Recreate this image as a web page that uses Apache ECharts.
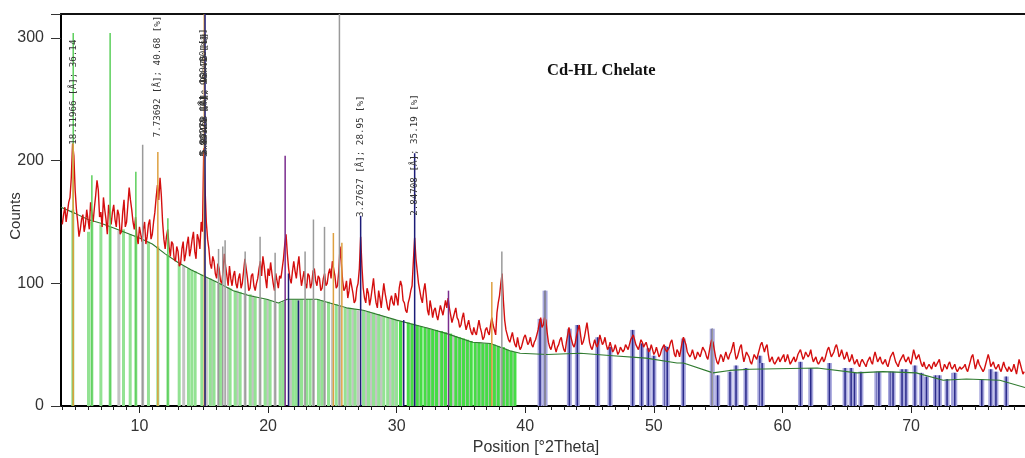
<!DOCTYPE html>
<html><head><meta charset="utf-8">
<script src="https://cdn.jsdelivr.net/npm/echarts@6/dist/echarts.min.js"></script>
<style>html,body{margin:0;padding:0;background:#fff}#c{width:1025px;height:458px}</style>
</head><body><div id="c"></div>
<script>
// ---- data ----
const title = 'Cd-HL Chelate';
const xName = 'Position [°2Theta]';
const yName = 'Counts';
const xTickLabels = [10, 20, 30, 40, 50, 60, 70];
const xMinorTicks = [4,5,6,7,8,9,10,11,12,13,14,15,16,17,18,19,20,21,22,23,24,25,26,27,28,29,30,31,32,33,34,35,36,37,38,39,40,41,42,43,44,45,46,47,48,49,50,51,52,53,54,55,56,57,58,59,60,61,62,63,64,65,66,67,68,69,70,71,72,73,74,75,76,77,78];
const yTicks = [0, 100, 200, 300];

// measured pattern, 4.0 .. 78.8 °2θ, step 0.1 (one row = 2°)
const redStart = 4.0, redStep = 0.1;
const redCounts = [
148,156,162,150,158,166,170,186,214,204,176,160,150,138,144,152,156,142,148,160,
152,144,166,158,150,162,172,184,176,154,158,146,170,160,152,140,164,156,148,158,
164,152,146,160,156,140,142,158,168,146,150,164,178,168,160,150,144,154,138,132,
146,140,134,144,150,132,138,148,152,136,140,150,158,170,180,168,186,172,150,136,
128,138,144,130,122,134,132,120,118,130,126,114,116,128,134,118,124,132,138,122,
128,136,142,126,120,140,136,128,150,142,210,178,150,136,128,116,112,122,118,108,
104,116,112,102,100,110,124,114,106,98,114,104,98,106,110,100,96,104,108,96,
100,110,120,112,104,94,96,106,108,98,94,100,104,112,118,106,122,114,104,96,
112,106,117,108,100,94,108,102,96,106,104,112,120,132,140,124,112,104,100,110,
118,110,104,114,122,108,98,104,110,100,96,108,106,96,100,110,112,102,98,106,
104,94,96,104,108,98,100,108,112,104,118,112,106,96,98,110,130,116,102,94,
96,102,88,94,104,98,92,84,86,96,100,112,138,114,96,88,84,96,92,82,
88,96,104,92,84,80,94,88,80,90,100,92,86,80,78,86,90,84,82,92,
88,82,96,102,98,86,84,78,76,84,88,94,98,118,137,120,110,100,94,88,
84,94,100,90,78,74,86,80,72,78,80,74,70,76,82,78,74,80,86,80,
88,80,74,68,68,76,80,72,70,64,66,72,76,68,62,66,70,64,60,58,
64,60,58,64,70,64,60,54,56,62,64,60,58,66,72,66,62,58,76,84,
90,100,108,86,70,62,58,54,52,56,60,54,50,48,56,50,46,48,52,56,
58,54,50,52,56,50,48,52,54,58,62,68,72,64,66,72,70,60,52,48,
46,50,54,48,44,48,50,54,56,50,46,44,52,58,64,58,54,50,48,52,
58,62,66,58,50,52,56,62,68,60,52,48,46,50,54,50,48,52,58,54,
50,52,56,50,46,48,52,48,44,46,50,46,42,44,48,46,44,46,50,48,
46,50,54,56,58,54,50,48,46,50,54,52,48,50,52,48,44,46,50,46,
42,44,48,44,40,42,46,48,50,46,44,46,48,52,54,48,42,40,46,44,
40,46,52,56,55,50,44,42,40,42,46,42,38,40,44,42,40,44,48,46,
44,40,38,44,50,54,52,46,40,36,34,38,42,40,36,40,44,40,38,42,
44,48,52,44,38,40,44,48,50,42,36,40,44,42,40,36,34,38,42,40,
38,42,46,50,52,48,44,48,50,42,36,38,40,36,34,36,38,40,36,38,
40,42,36,38,42,38,34,36,38,40,36,38,42,44,46,42,38,40,44,42,
40,42,46,40,36,38,40,36,34,36,38,40,36,38,42,46,48,44,40,42,
44,48,50,46,40,42,46,42,38,40,44,40,36,38,42,38,34,36,38,34,
32,36,38,36,34,32,36,38,40,36,34,40,44,40,36,38,40,36,34,36,
38,34,32,36,40,42,44,40,36,34,32,36,38,40,42,38,36,38,40,36,
34,40,46,42,38,40,42,38,34,32,36,32,30,32,34,32,30,34,36,32,
32,36,38,32,28,30,34,32,30,34,36,32,30,32,34,30,28,30,32,30,
30,32,34,30,28,32,36,40,42,36,30,34,38,34,32,30,28,30,34,38,
42,38,32,34,36,32,30,32,34,30,28,32,36,32,30,28,32,30,28,30,
34,30,26,32,38,34,30,26,28
];

const background = [[3.9,162],[5,157],[6,152],[7,149],[8,145],[9,141],[10,137],[11,132],[12,124],[13,117],[14,111],[15,106],[16,101],[17.3,94],[18.5,90],[19.9,87],[20.8,84],[21.5,87],[23.8,87],[24.8,84],[26.1,80],[27.4,78],[30,70],[32.6,63],[33.9,59],[35.9,52],[37.3,51],[38.8,45],[39.6,43],[41.7,42],[44.3,43],[46.8,41],[49.4,39],[51.8,35],[52.3,35],[54.6,27],[55.9,29],[57.5,30],[62.7,31],[65.8,27],[67.8,28],[70.4,27],[72.5,21],[74.3,22],[76.9,21],[78.86,15]];

// reference pattern sticks [position, height]
const greenSticks = [[4.82,160],[6.04,142],[6.30,150],[7.00,148],[7.72,146],[8.76,144],[9.28,140],[9.72,139],[10.70,134],[11.43,130],[12.21,123],[13.09,116],[13.81,112],[14.07,111],[14.33,110],[14.85,107],[15.50,104],[15.8,102],[16.3,100],[17.05,96],[17.44,94],[17.83,93],[18.61,91],[19.0,89],[19.77,87],[20.16,86],[20.94,84],[21.2,85],[21.97,87],[22.2,87],[22.6,87],[23.0,87],[23.27,87],[23.92,87],[24.2,86],[24.7,85],[25.3,83],[25.99,80],[26.38,80],[26.77,79],[27.42,78],[27.81,77],[28.2,76],[28.6,75],[29.0,73],[29.3,72],[29.7,71],[30.0,70]];
const brightGreenSticks = [[30.3,69],[30.9,68],[31.2,67],[31.6,66],[31.9,65],[32.2,64],[32.5,63],[32.8,62],[33.1,62],[33.5,61],[33.8,60],[34.2,59],[34.6,57],[34.9,56],[35.2,55],[35.5,54],[35.8,53],[36.1,52],[36.4,52],[36.7,51],[37.0,51],[37.3,51],[37.6,50],[37.9,49],[38.3,48],[38.6,46],[38.9,45],[39.2,44]];
const greySticks = [[8.4,143],[10.25,136],[13.44,114],[15.2,105],[15.65,103],[16.15,100],[16.9,97],[17.6,94],[18.22,92],[18.8,90],[19.38,88],[19.95,87],[20.55,85],[21.1,84],[21.75,87],[22.4,87],[22.88,87],[23.53,87],[24.1,86],[24.39,85],[25.0,84],[25.55,82],[26.2,80],[26.6,79],[27.0,78],[27.6,77],[28.0,76],[28.4,75],[28.8,74],[29.5,71],[29.85,70],[30.45,69],[31.05,67],[31.4,66],[31.75,65],[32.35,64],[32.65,63],[32.95,62],[33.3,61],[33.65,60],[34.4,58],[34.75,56],[35.05,55],[35.35,54],[35.65,53],[36.25,52],[36.55,52],[36.85,51],[37.15,51],[37.45,50],[37.75,49],[38.05,48],[38.45,47],[38.75,45],[39.05,44]];
const blueSticks = [[41.15,71],[41.54,94],[43.43,63],[44.05,66],[45.63,56],[46.59,48],[48.35,62],[49.05,51],[49.57,47],[50.0,41],[50.86,49],[51.04,48],[52.29,55],[54.54,63],[54.96,25],[55.92,28],[56.39,33],[57.16,31],[58.24,41],[58.42,35],[61.4,36],[62.2,31],[63.65,35],[64.87,31],[65.34,31],[65.6,27],[66.1,28],[67.34,28],[67.5,28],[68.4,28],[68.6,28],[69.3,30],[69.6,30],[70.3,33],[70.8,27],[71.2,24],[71.9,25],[72.2,25],[72.8,22],[73.3,27],[73.4,27],[75.5,22],[76.2,30],[76.6,28],[77.4,24]];

// thin peak marker lines [position, height]
const greenLines = [[4.85,304],[7.72,304],[6.30,188],[9.72,191],[12.21,153]];
const greyLines = [[10.25,213],[16.15,128],[16.48,130],[16.66,135],[18.22,126],[19.38,138],[20.55,125],[22.88,126],[23.53,152],[24.39,146],[25.55,330],[38.18,126],[41.54,94],[54.54,63]];
const orangeLines = [[4.85,214],[11.43,207],[15.04,330],[25.08,141],[25.74,133],[37.4,101]];
const purpleLines = [[21.33,204],[34.03,94]];
const navyLines = [[15.1,330],[21.59,108],[22.36,86],[27.2,155],[31.4,206],[30.55,70]];

// peak annotations [position, start height, text]
const peakLabels = [
  [4.87, 213, '18.11966 [Å]; 36.14'],
  [11.43, 219, '7.73692 [Å]; 40.68 [%]'],
  [15.02, 204, '5.86279 [Å]; 100.00 [%]'],
  [15.06, 205, '5.87468 [Å]; 93.75 [%]'],
  [15.09, 203, '5.89121 [Å]; 96.41 [%]'],
  [27.2, 154, '3.27627 [Å]; 28.95 [%]'],
  [31.4, 155, '2.84708 [Å]; 35.19 [%]']
];

// ---- chart ----
const redData = redCounts.map((v, i) => [+(redStart + i * redStep).toFixed(2), v]);
const narrow = "'Liberation Sans Narrow','Liberation Sans',Arial,sans-serif";

function stickSeries(data, color, width, z) {
  return {
    type: 'custom', data, z, clip: true, silent: true, animation: false,
    renderItem: (params, api) => {
      const p0 = api.coord([api.value(0), 0]);
      const p1 = api.coord([api.value(0), api.value(1)]);
      return { type: 'rect', shape: { x: p0[0] - width / 2, y: p1[1], width: width, height: p0[1] - p1[1] }, style: { fill: color } };
    }
  };
}
function blueStickSeries(data) {
  return {
    type: 'custom', data, z: 3, clip: true, silent: true, animation: false,
    renderItem: (params, api) => {
      const p0 = api.coord([api.value(0), 0]);
      const p1 = api.coord([api.value(0), api.value(1)]);
      return { type: 'group', children: [
        { type: 'rect', shape: { x: p0[0] - 2.5, y: p1[1], width: 5, height: p0[1] - p1[1] }, style: { fill: '#a8a8de' } },
        { type: 'rect', shape: { x: p0[0] - 0.75, y: p1[1], width: 1.5, height: p0[1] - p1[1] }, style: { fill: '#2a2a8a' } }
      ] };
    }
  };
}

const chart = echarts.init(document.getElementById('c'), null, { renderer: 'canvas' });
chart.setOption({
  animation: false,
  backgroundColor: '#fff',
  grid: { left: 61, right: 0, top: 14, bottom: 52, containLabel: false },
  xAxis: [
    { type: 'value', min: 3.9, max: 78.86, position: 'bottom',
      axisLine: { show: true, onZero: false, lineStyle: { color: '#000', width: 2 } },
      axisTick: { show: true, customValues: xTickLabels, length: 7, lineStyle: { color: '#222' } },
      axisLabel: { customValues: xTickLabels, margin: 13, fontSize: 16, fontFamily: narrow, color: '#333' },
      splitLine: { show: false } },
    { type: 'value', min: 3.9, max: 78.86, position: 'bottom',
      axisLine: { show: false, onZero: false },
      axisTick: { show: true, customValues: xMinorTicks, length: 4, lineStyle: { color: '#222' } },
      axisLabel: { show: false }, splitLine: { show: false } },
    { type: 'value', min: 3.9, max: 78.86, position: 'top',
      axisLine: { show: true, onZero: false, lineStyle: { color: '#111', width: 2 } },
      axisTick: { show: false }, axisLabel: { show: false }, splitLine: { show: false } }
  ],
  yAxis: { type: 'value', min: 0, max: 319.5, interval: 100,
    axisLine: { show: true, lineStyle: { color: '#000', width: 2 } },
    axisTick: { show: true, length: 10, lineStyle: { color: '#333' } },
    axisLabel: { margin: 17, fontSize: 16, fontFamily: narrow, color: '#333',
      customValues: yTicks },
    splitLine: { show: false } },
  graphic: [
    { type: 'text', left: 547, top: 62, style: { text: title, font: 'bold 16.5px "Liberation Serif", "Times New Roman", serif', fill: '#111' } },
    { type: 'text', x: 536, y: 448, style: { text: xName, font: '16px ' + narrow, fill: '#333', align: 'center', verticalAlign: 'middle' } },
    { type: 'text', x: 16, y: 216, rotation: Math.PI / 2, style: { text: yName, font: '15px ' + narrow, fill: '#333', align: 'center', verticalAlign: 'middle' } }
  ],
  series: [
    stickSeries(greySticks, '#c4c4c4', 3, 1),
    stickSeries(greenSticks, '#93e293', 3, 2),
    stickSeries(brightGreenSticks, '#45dc45', 3, 2),
    blueStickSeries(blueSticks),
    { type: 'line', data: background, z: 4, symbol: 'none', silent: true, lineStyle: { color: '#2f7a2f', width: 1.1 } },
    { type: 'line', data: redData, z: 5, symbol: 'none', silent: true, lineStyle: { color: '#d40f0f', width: 1.4 } },
    stickSeries(greyLines, '#9a9a9a', 1.5, 6),
    stickSeries(greenLines, '#5ccf5c', 1.5, 6),
    stickSeries(orangeLines, '#dea040', 1.5, 6),
    stickSeries(purpleLines, '#7a2c8e', 1.5, 7),
    stickSeries(navyLines, '#1c1c78', 1.5, 7),
    { type: 'custom', data: peakLabels, z: 8, clip: false, silent: true, animation: false,
      renderItem: (params, api) => {
        const d = peakLabels[params.dataIndex];
        const p = api.coord([d[0], d[1]]);
        return { type: 'text', x: p[0], y: p[1], rotation: Math.PI / 2,
          style: { text: d[2], font: '9.2px "DejaVu Sans Mono", monospace', fill: '#333', align: 'left', verticalAlign: 'middle' } };
      } }
  ]
});
</script>
</body></html>
